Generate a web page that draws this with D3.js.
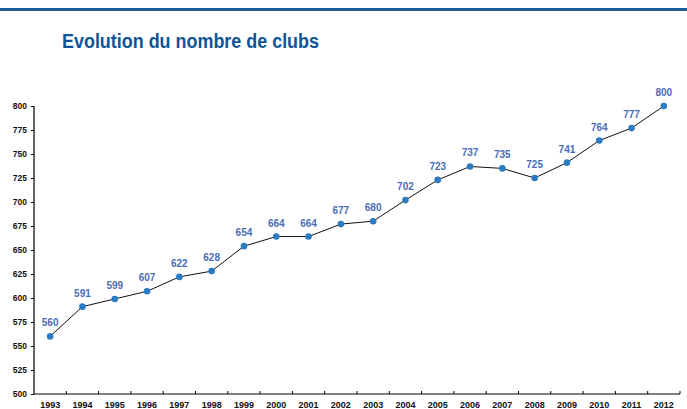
<!DOCTYPE html>
<html>
<head>
<meta charset="utf-8">
<script src="https://cdn.jsdelivr.net/npm/d3@7"></script>
<style>
  body { margin: 0; background: #fff; }
  text { font-family: "Liberation Sans", Arial, sans-serif; }
</style>
</head>
<body>
<div class="canvas"></div>
<script>
const years = ['1993', '1994', '1995', '1996', '1997', '1998', '1999', '2000', '2001', '2002',
    '2003', '2004', '2005', '2006', '2007', '2008', '2009', '2010', '2011', '2012'];
const clubs = [560, 591, 599, 607, 622, 628, 654, 664, 664, 677,
    680, 702, 723, 737, 735, 725, 741, 764, 777, 800];
const yTicks = [500, 525, 550, 575, 600, 625, 650, 675, 700, 725, 750, 775, 800];

const dims = {width: 687, height: 409};
const plot = {left: 34, right: 680, top: 106, bottom: 394};

const svg = d3.select('.canvas')
    .append('svg')
    .attr('width', dims.width)
    .attr('height', dims.height);

// top rule
svg.append('rect')
    .attr('x', 0).attr('y', 8)
    .attr('width', dims.width).attr('height', 3)
    .attr('fill', '#1d5b94');

svg.append('text')
    .attr('x', 62).attr('y', 48)
    .attr('font-size', 20)
    .attr('font-weight', 'bold')
    .attr('fill', '#0f5595')
    .attr('textLength', 257)
    .attr('lengthAdjust', 'spacingAndGlyphs')
    .text('Evolution du nombre de clubs');

const x = d3.scaleBand()
    .domain(years)
    .range([plot.left, plot.right]);

const y = d3.scaleLinear()
    .domain([500, 800])
    .range([plot.bottom, plot.top]);

// y axis
const yAxis = svg.append('g')
    .attr('transform', `translate(${plot.left}, 0)`)
    .call(d3.axisLeft(y).tickValues(yTicks).tickSize(3).tickPadding(4));

yAxis.select('.domain').attr('d', `M0,${plot.top}V${plot.bottom}`).attr('stroke', '#000').attr('stroke-width', 1.2);
yAxis.selectAll('text')
    .attr('font-size', 8.5)
    .attr('font-weight', 'bold')
    .attr('fill', '#111');

// x axis
const xAxis = svg.append('g')
    .attr('transform', `translate(0, ${plot.bottom})`)
    .call(d3.axisBottom(x).tickSize(0).tickPadding(8));

xAxis.select('.domain').attr('d', `M${plot.left},0H${plot.right}`).attr('stroke', '#000').attr('stroke-width', 1.2);
xAxis.selectAll('text')
    .attr('font-size', 9)
    .attr('font-weight', 'bold')
    .attr('fill', '#111');

// band boundary ticks
xAxis.selectAll('line.bound')
    .data(years.slice(1).concat(['end']))
    .enter().append('line')
    .attr('class', 'bound')
    .attr('x1', d => d === 'end' ? plot.right : x(d))
    .attr('x2', d => d === 'end' ? plot.right : x(d))
    .attr('y1', 0).attr('y2', -3)
    .attr('stroke', '#000');

const line = d3.line()
    .x((d, i) => x(years[i]) + x.bandwidth() / 2)
    .y(d => y(d));

svg.append('path')
    .datum(clubs)
    .attr('d', line)
    .attr('fill', 'none')
    .attr('stroke', '#111')
    .attr('stroke-width', 1);

svg.selectAll('circle.pt')
    .data(clubs)
    .enter().append('circle')
    .attr('class', 'pt')
    .attr('cx', (d, i) => x(years[i]) + x.bandwidth() / 2)
    .attr('cy', d => y(d))
    .attr('r', 3.3)
    .attr('fill', '#2b7bc3');

svg.selectAll('text.val')
    .data(clubs)
    .enter().append('text')
    .attr('class', 'val')
    .attr('x', (d, i) => x(years[i]) + x.bandwidth() / 2)
    .attr('y', d => y(d) - 10)
    .attr('text-anchor', 'middle')
    .attr('font-size', 10)
    .attr('font-weight', 'bold')
    .attr('fill', '#4a6db8')
    .text(d => d);
</script>
</body>
</html>
